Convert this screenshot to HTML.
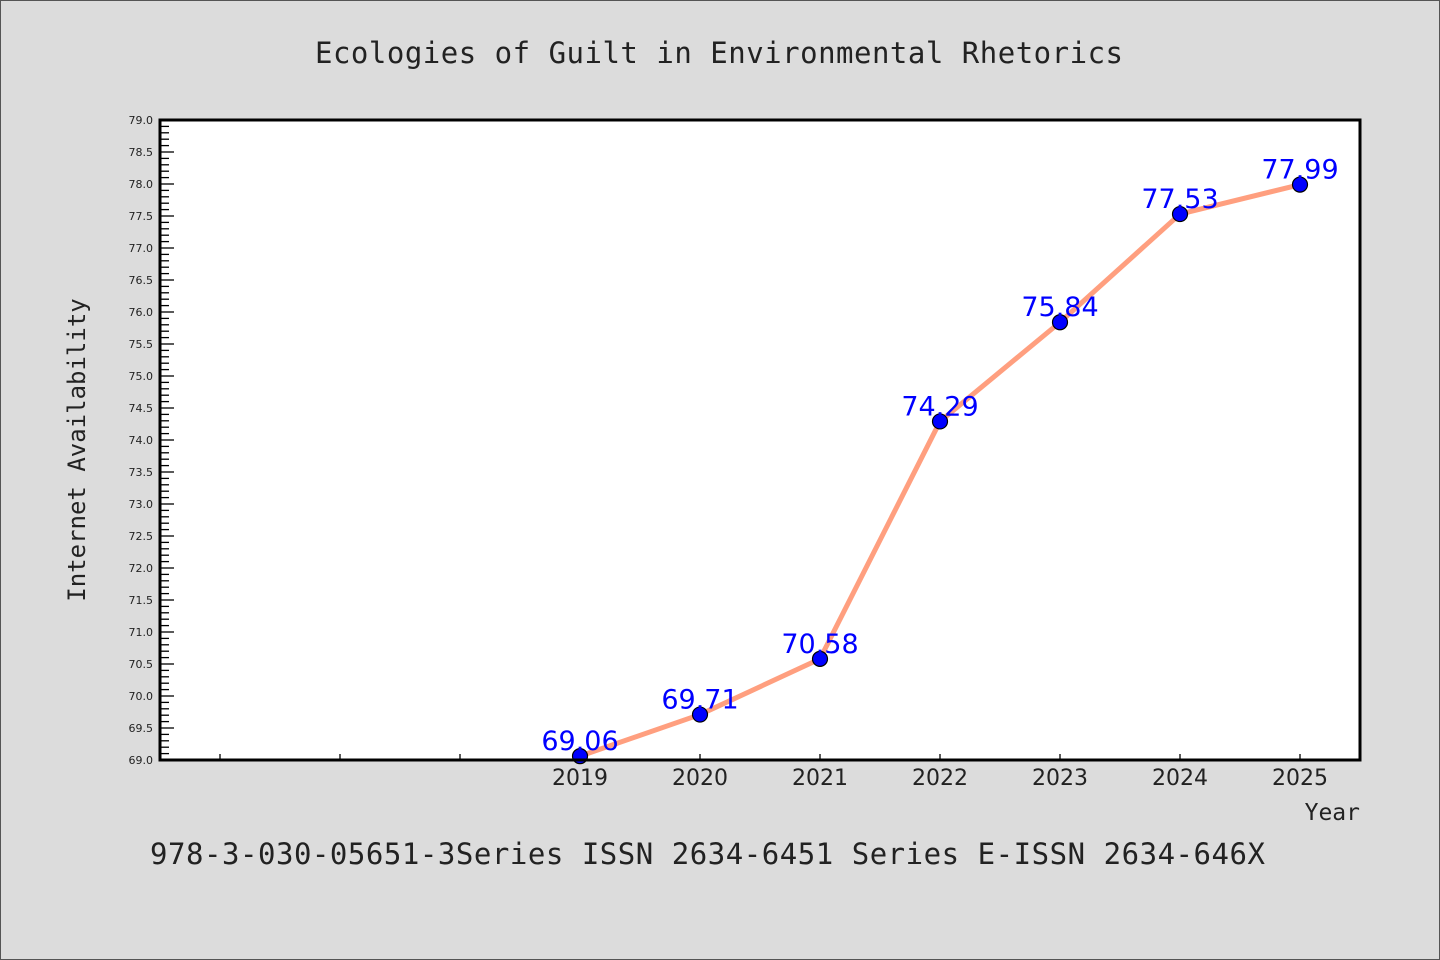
<!DOCTYPE html>
<html><head><meta charset="utf-8"><style>
html,body{margin:0;padding:0;background:#dcdcdc;}
svg{display:block;}
</style></head><body>
<svg width="1440" height="960" xmlns="http://www.w3.org/2000/svg">
<rect x="0.5" y="0.5" width="1439" height="959" fill="#dcdcdc" stroke="#555"/>
<text x="315" y="63" textLength="808" lengthAdjust="spacing" font-family="'DejaVu Sans Mono','Liberation Mono',monospace" font-size="29" fill="#222">Ecologies of Guilt in Environmental Rhetorics</text>
<rect x="160" y="120" width="1200" height="640" fill="#fff"/>
<g id="yaxis"></g>
<g id="xaxis"></g>
<g id="series"></g>
<rect x="160" y="120" width="1200" height="640" fill="none" stroke="#000" stroke-width="3"/>
<text transform="translate(85,450) rotate(-90)" text-anchor="middle" font-family="'DejaVu Sans Mono','Liberation Mono',monospace" font-size="24" fill="#222">Internet Availability</text>
<text x="1360" y="820" text-anchor="end" font-family="'DejaVu Sans Mono','Liberation Mono',monospace" font-size="23" fill="#222">Year</text>
<text x="150" y="864" textLength="1115" lengthAdjust="spacing" font-family="'DejaVu Sans Mono','Liberation Mono',monospace" font-size="29" fill="#222">978-3-030-05651-3Series ISSN 2634-6451 Series E-ISSN 2634-646X</text>
</svg>
<script>
const years = [2019, 2020, 2021, 2022, 2023, 2024, 2025];
const values = [69.06, 69.71, 70.58, 74.29, 75.84, 77.53, 77.99];
const valueLabels = ["69.06", "69.71", "70.58", "74.29", "75.84", "77.53", "77.99"];
const yTickLabels = ["69.0","69.5","70.0","70.5","71.0","71.5","72.0","72.5","73.0","73.5","74.0","74.5","75.0","75.5","76.0","76.5","77.0","77.5","78.0","78.5","79.0"];
const xMinorYears = [2016, 2017, 2018];

const NS = "http://www.w3.org/2000/svg";
const X0 = 160, X1 = 1360, Y0 = 760, Y1 = 120;
const xMin = 2015.5, xMax = 2025.5, yMin = 69, yMax = 79;
const xs = v => X0 + (v - xMin) / (xMax - xMin) * (X1 - X0);
const ys = v => Y0 - (v - yMin) / (yMax - yMin) * (Y0 - Y1);
function mk(tag, attrs, parent) {
  const e = document.createElementNS(NS, tag);
  for (const k in attrs) e.setAttribute(k, attrs[k]);
  parent.appendChild(e);
  return e;
}
const yg = document.getElementById('yaxis');
for (let i = 0; i <= 100; i++) {
  const v = yMin + i * 0.1;
  const major = i % 5 === 0;
  const t = mk('line', {x1: X0, x2: X0 + (major ? 14 : 9), y1: ys(v), y2: ys(v), stroke: '#000', 'stroke-width': 1.3}, yg);
  
  
}
yTickLabels.forEach(l => {
  const t = mk('text', {x: 153, y: ys(parseFloat(l)) + 4, 'text-anchor': 'end', 'font-family': "'DejaVu Sans','Liberation Sans',sans-serif", 'font-size': 11, fill: '#222'}, yg);
  t.textContent = l;
  
  
});
const xg = document.getElementById('xaxis');
xMinorYears.concat(years).forEach(y => {
  const t = mk('line', {x1: xs(y), x2: xs(y), y1: Y0, y2: Y0 - 6, stroke: '#000', 'stroke-width': 1.3}, xg);
  
  
});
years.forEach(y => {
  const t = mk('text', {x: xs(y), y: 785, 'text-anchor': 'middle', 'font-family': "'DejaVu Sans','Liberation Sans',sans-serif", 'font-size': 22, fill: '#222'}, xg);
  t.textContent = String(y);
  
  
});
const sg = document.getElementById('series');
const pts = years.map((y, i) => xs(y) + ',' + ys(values[i])).join(' ');
const line = mk('polyline', {points: pts, fill: 'none', stroke: '#ff9f7f', 'stroke-width': 5, 'stroke-linejoin': 'round'}, sg);


years.forEach((y, i) => {
  const c = mk('circle', {cx: xs(y), cy: ys(values[i]), r: 7.5, fill: '#0000ff', stroke: '#000', 'stroke-width': 1.2}, sg);
  
  
});
years.forEach((y, i) => {
  const t = mk('text', {x: xs(y), y: ys(values[i]) - 6, 'text-anchor': 'middle', 'font-family': "'DejaVu Sans','Liberation Sans',sans-serif", 'font-size': 27, fill: '#0000ff'}, sg);
  t.textContent = valueLabels[i];
  
  
});
</script>
</body></html>
